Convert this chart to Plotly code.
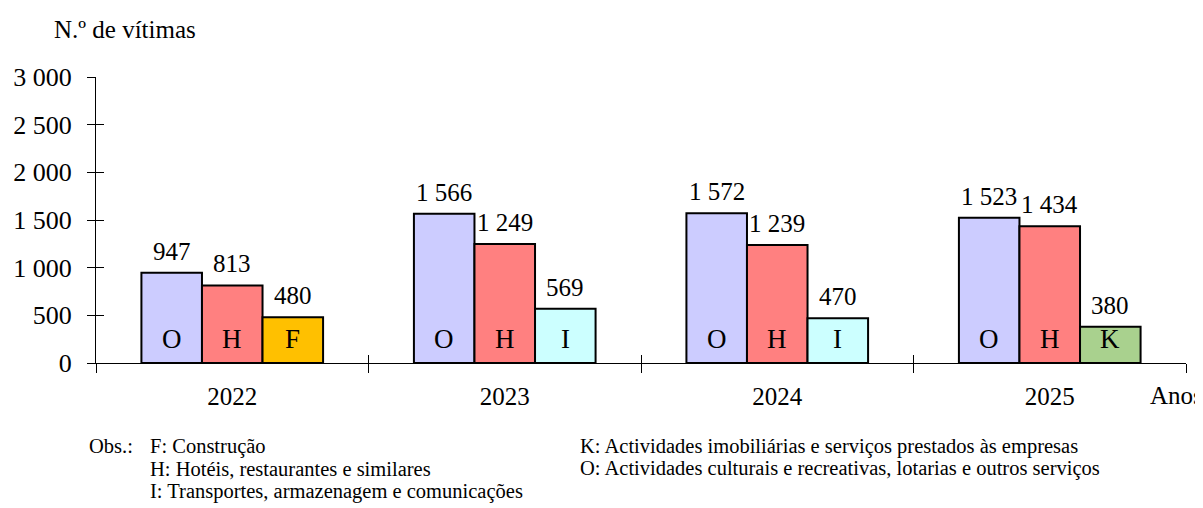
import plotly.graph_objects as go

years = ["2022", "2023", "2024", "2025"]
o_values = [947, 1566, 1572, 1523]
h_values = [813, 1249, 1239, 1434]
third_values = [480, 569, 470, 380]
third_letters = ["F", "I", "I", "K"]
third_colors = ["#FFC000", "#CCFFFF", "#CCFFFF", "#A9D18E"]
o_color = "#CCCCFF"
h_color = "#FF8080"

y_ticks = [0, 500, 1000, 1500, 2000, 2500, 3000]
notes_left = ["F: Construção", "H: Hotéis, restaurantes e similares",
              "I: Transportes, armazenagem e comunicações"]
notes_right = ["K: Actividades imobiliárias e serviços prestados às empresas",
               "O: Actividades culturais e recreativas, lotarias e outros serviços"]

FONT = "'Liberation Serif', 'Times New Roman', 'DejaVu Serif', serif"
bw = 2 / 9
offsets = [-bw, 0, bw]
idx = list(range(len(years)))

fig = go.Figure()
series = [
    (o_values, [o_color] * 4, ["O"] * 4),
    (h_values, [h_color] * 4, ["H"] * 4),
    (third_values, third_colors, third_letters),
]
annotations = []
for k, (vals, cols, letters) in enumerate(series):
    xs = [i + offsets[k] for i in idx]
    fig.add_trace(go.Bar(x=xs, y=vals, width=bw, marker=dict(color=cols, line=dict(color="black", width=2)),
                         showlegend=False, hoverinfo="skip"))
    for x, v, L in zip(xs, vals, letters):
        annotations.append(dict(x=x, y=v, xref="x", yref="y", text=f"{v:,}".replace(",", " "),
                                showarrow=False, yanchor="bottom", yshift=6,
                                font=dict(family=FONT, size=25, color="black")))
        annotations.append(dict(x=x, y=0, xref="x", yref="y", text=L, showarrow=False,
                                yanchor="middle", yshift=24,
                                font=dict(family=FONT, size=27, color="black")))

annotations.append(dict(x=-0.04, y=1.165, xref="paper", yref="paper", text="N.º de vítimas",
                        showarrow=False, xanchor="left", yanchor="middle",
                        font=dict(family=FONT, size=25, color="black")))
annotations.append(dict(x=0.965, y=-0.115, xref="paper", yref="paper", text="Anos",
                        showarrow=False, xanchor="left", yanchor="middle",
                        font=dict(family=FONT, size=25, color="black")))
note_font = dict(family=FONT, size=20.5, color="black")
line_px = 22.5
y0_px = 446
def py(px):
    return (363 - px) / 286
annotations.append(dict(x=(87 - 96) / 1090, y=py(y0_px), xref="paper", yref="paper", text="Obs.:",
                        showarrow=False, xanchor="left", yanchor="middle", font=note_font))
for j, t in enumerate(notes_left):
    annotations.append(dict(x=(148 - 96) / 1090, y=py(y0_px + j * line_px), xref="paper", yref="paper",
                            text=t, showarrow=False, xanchor="left", yanchor="middle", font=note_font))
for j, t in enumerate(notes_right):
    annotations.append(dict(x=(578 - 96) / 1090, y=py(y0_px + j * line_px), xref="paper", yref="paper",
                            text=t, showarrow=False, xanchor="left", yanchor="middle", font=note_font))

# invisible helper trace so overlay axes are drawn
fig.add_trace(go.Scatter(x=[-0.5], y=[0], xaxis="x2", yaxis="y2", mode="markers",
                         marker=dict(opacity=0), showlegend=False, hoverinfo="skip"))

xr = [-0.5, len(years) - 0.5]
fig.update_layout(
    width=1195, height=500,
    margin=dict(l=88, r=17, t=69, b=145),
    paper_bgcolor="white", plot_bgcolor="white",
    separators=", ",
    font=dict(family=FONT, size=25, color="black"),
    barmode="overlay",
    showlegend=False,
    xaxis=dict(range=xr, tickmode="array", tickvals=idx, ticktext=years, ticks="",
               showline=True, linecolor="black", linewidth=1, showgrid=False, zeroline=False,
               ticklabelstandoff=11, automargin=False,
               minor=dict(tick0=-0.5, dtick=1, ticks="outside", ticklen=9, tickcolor="black", tickwidth=1),
               tickfont=dict(family=FONT, size=25, color="black")),
    xaxis2=dict(range=xr, overlaying="x", anchor="y", side="bottom", tick0=-0.5, dtick=1,
                ticks="inside", ticklen=8, tickcolor="black", showticklabels=False,
                showline=False, showgrid=False, zeroline=False),
    yaxis=dict(range=[0, 3000], tickmode="array", tickvals=y_ticks, tickformat=",d",
               ticks="outside", ticklen=8, tickcolor="black", showline=True, linecolor="black",
               linewidth=1, showgrid=False, zeroline=False, ticklabelstandoff=10, automargin=False,
               tickfont=dict(family=FONT, size=26, color="black")),
    yaxis2=dict(range=[0, 3000], overlaying="y", anchor="x", side="left", tickmode="array",
                tickvals=y_ticks, ticks="inside", ticklen=8, tickcolor="black",
                showticklabels=False, showline=False, showgrid=False, zeroline=False),
    annotations=annotations,
)

fig.write_html("out.html")
